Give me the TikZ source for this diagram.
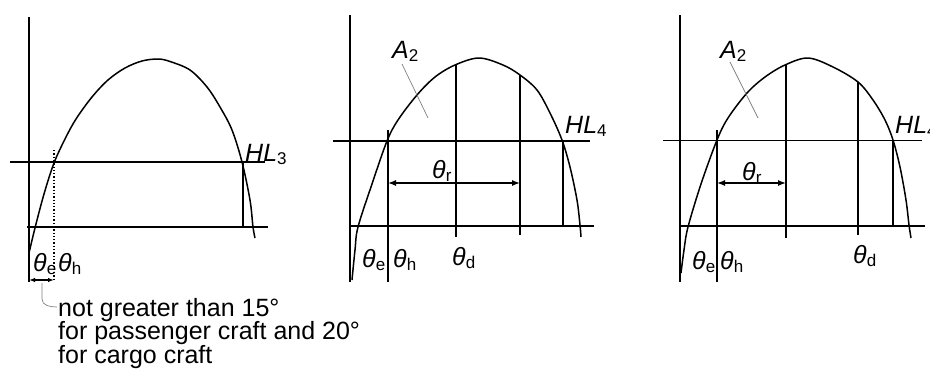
\documentclass[tikz,border=0pt]{standalone}
\usepackage{fontspec}
\setmainfont{Liberation Sans}
\usetikzlibrary{arrows.meta}
\newcommand\glab[2]{\textit{#1}\raisebox{-3.5pt}{\fontsize{17}{17}\selectfont #2}}
\begin{document}
\begin{tikzpicture}[x=1pt,y=-1pt,
  ln/.style={line width=1.5pt},
  axisln/.style={line width=1.2pt},
  lab/.style={anchor=base west, inner sep=0pt, font=\fontsize{25}{25}\selectfont},
  note/.style={anchor=base west, inner sep=0pt, align=left, font=\fontsize{25}{23.5}\selectfont},
  leader/.style={gray, line width=0.7pt},
  dimbig/.style={line width=1.3pt, {Latex[length=8pt,width=6pt]}-{Latex[length=8pt,width=6pt]}},
  dimsmall/.style={line width=1.3pt, {Latex[length=6pt,width=4.5pt]}-{Latex[length=6pt,width=4.5pt]}}]
\clip (0,0) rectangle (930,376);

% ---------------- Panel 1 ----------------
\coordinate (a1t) at (29,17);
\coordinate (a1b) at (29,282);
\draw[axisln] (a1t) -- (a1b);
\coordinate (h1l) at (10,162);   \coordinate (h1r) at (265,162);
\draw[ln] (h1l) -- (h1r);
\coordinate (b1l) at (27,227);   \coordinate (b1r) at (268,227);
\draw[ln] (b1l) -- (b1r);
\draw[ln] plot[smooth, tension=0.55] coordinates {
 (29,253) (35,228) (44,194) (54,163) (65,139) (76,119) (92,97) (108,80)
 (125,68) (142,61) (158,59) (170,61.5) (190,70) (207,87) (220,107)
 (232,130) (242,162) (250,200) (253,227) (255,238)};
\coordinate (v1t) at (54,150);  \coordinate (v1b) at (54,281);
\draw[line width=1.3pt, dotted] (v1t) -- (v1b);
\coordinate (r1t) at (243,162); \coordinate (r1b) at (243,227);
\draw[ln] (r1t) -- (r1b);
\coordinate (d1l) at (29,280); \coordinate (d1r) at (54,280);
\draw[dimsmall] (d1l) -- (d1r);
\node[lab] (te1) at (33,271) {\glab{θ}{e}};
\node[lab] (th1) at (58,271) {\glab{θ}{h}};
\node[lab] (hl3) at (245,161) {\glab{HL}{3}};
\node[note] (txt) at (58,363) {not greater than 15°\\for passenger craft and 20°\\for cargo craft};
\coordinate (ld1) at (42,283);
\coordinate (ld2) at (57,307);
\draw[leader] (ld1) -- (42,299) to[out=270,in=180] (ld2);

% ---------------- Panel 2 ----------------
\coordinate (a2t) at (350,15);  \coordinate (a2b) at (350,282);
\draw[axisln] (a2t) -- (a2b);
\coordinate (h2l) at (333,141); \coordinate (h2r) at (590,141);
\draw[ln] (h2l) -- (h2r);
\coordinate (b2l) at (350,226); \coordinate (b2r) at (594,226);
\draw[ln] (b2l) -- (b2r);
\draw[ln] plot[smooth, tension=0.55] coordinates {
 (352,280) (355,250) (358,227) (372,184) (387,141) (398,120) (417,95)
 (435,77) (455,65) (479,58) (503,65) (520,75) (537,90) (550,113)
 (562,140) (570,167) (577,200) (580,225) (581,237)};
\coordinate (th2t) at (388,130); \coordinate (th2b) at (388,282);
\draw[axisln] (th2t) -- (th2b);
\coordinate (td2t) at (456,64);  \coordinate (td2b) at (456,237);
\draw[ln] (td2t) -- (td2b);
\coordinate (tr2t) at (520,75);  \coordinate (tr2b) at (520,235);
\draw[ln] (tr2t) -- (tr2b);
\coordinate (r2t) at (563,141);  \coordinate (r2b) at (563,226);
\draw[ln] (r2t) -- (r2b);
\coordinate (ar2l) at (388,183); \coordinate (ar2r) at (520,183);
\draw[dimbig] (ar2l) -- (ar2r);
\node[lab] (tr2) at (432,178) {\glab{θ}{r}};
\node[lab] (te2) at (362,267) {\glab{θ}{e}};
\node[lab] (th2) at (393,267) {\glab{θ}{h}};
\node[lab] (td2) at (452,265) {\glab{θ}{d}};
\node[lab] (A2a) at (392,58) {\glab{A}{2}};
\node[lab] (hl4a) at (565,133) {\glab{HL}{4}};
\coordinate (l2a) at (402,64); \coordinate (l2b) at (428,118);
\draw[leader] (l2a) -- (l2b);

% ---------------- Panel 3 ----------------
\coordinate (a3t) at (680,15);  \coordinate (a3b) at (680,282);
\draw[axisln] (a3t) -- (a3b);
\coordinate (h3l) at (663,140.5); \coordinate (h3r) at (922,140.5);
\draw[ln] (h3l) -- (h3r);
\coordinate (b3l) at (680,226); \coordinate (b3r) at (925,226);
\draw[ln] (b3l) -- (b3r);
\draw[ln] plot[smooth, tension=0.55] coordinates {
 (681,273) (684,250) (688,227) (701,184) (717,140) (728,118) (747,93)
 (765,77) (785,65) (808,58) (833,67) (858,82) (873,100) (885,120)
 (893,140) (900,167) (906,200) (909,225) (911,238)};
\coordinate (th3t) at (717,130); \coordinate (th3b) at (717,282);
\draw[axisln] (th3t) -- (th3b);
\coordinate (tr3t) at (786,65);  \coordinate (tr3b) at (786,238);
\draw[ln] (tr3t) -- (tr3b);
\coordinate (td3t) at (858,82);  \coordinate (td3b) at (858,235);
\draw[ln] (td3t) -- (td3b);
\coordinate (r3t) at (893,140.5); \coordinate (r3b) at (893,226);
\draw[ln] (r3t) -- (r3b);
\coordinate (ar3l) at (717,183); \coordinate (ar3r) at (786,183);
\draw[dimbig] (ar3l) -- (ar3r);
\node[lab] (tr3) at (742,180) {\glab{θ}{r}};
\node[lab] (te3) at (692,269) {\glab{θ}{e}};
\node[lab] (th3) at (720,269) {\glab{θ}{h}};
\node[lab] (td3) at (853,263) {\glab{θ}{d}};
\node[lab] (A2b) at (720,58) {\glab{A}{2}};
\node[lab] (hl4b) at (895,133) {\glab{HL}{4}};
\coordinate (l3a) at (730,62); \coordinate (l3b) at (758,118);
\draw[leader] (l3a) -- (l3b);
\end{tikzpicture}
\end{document}
